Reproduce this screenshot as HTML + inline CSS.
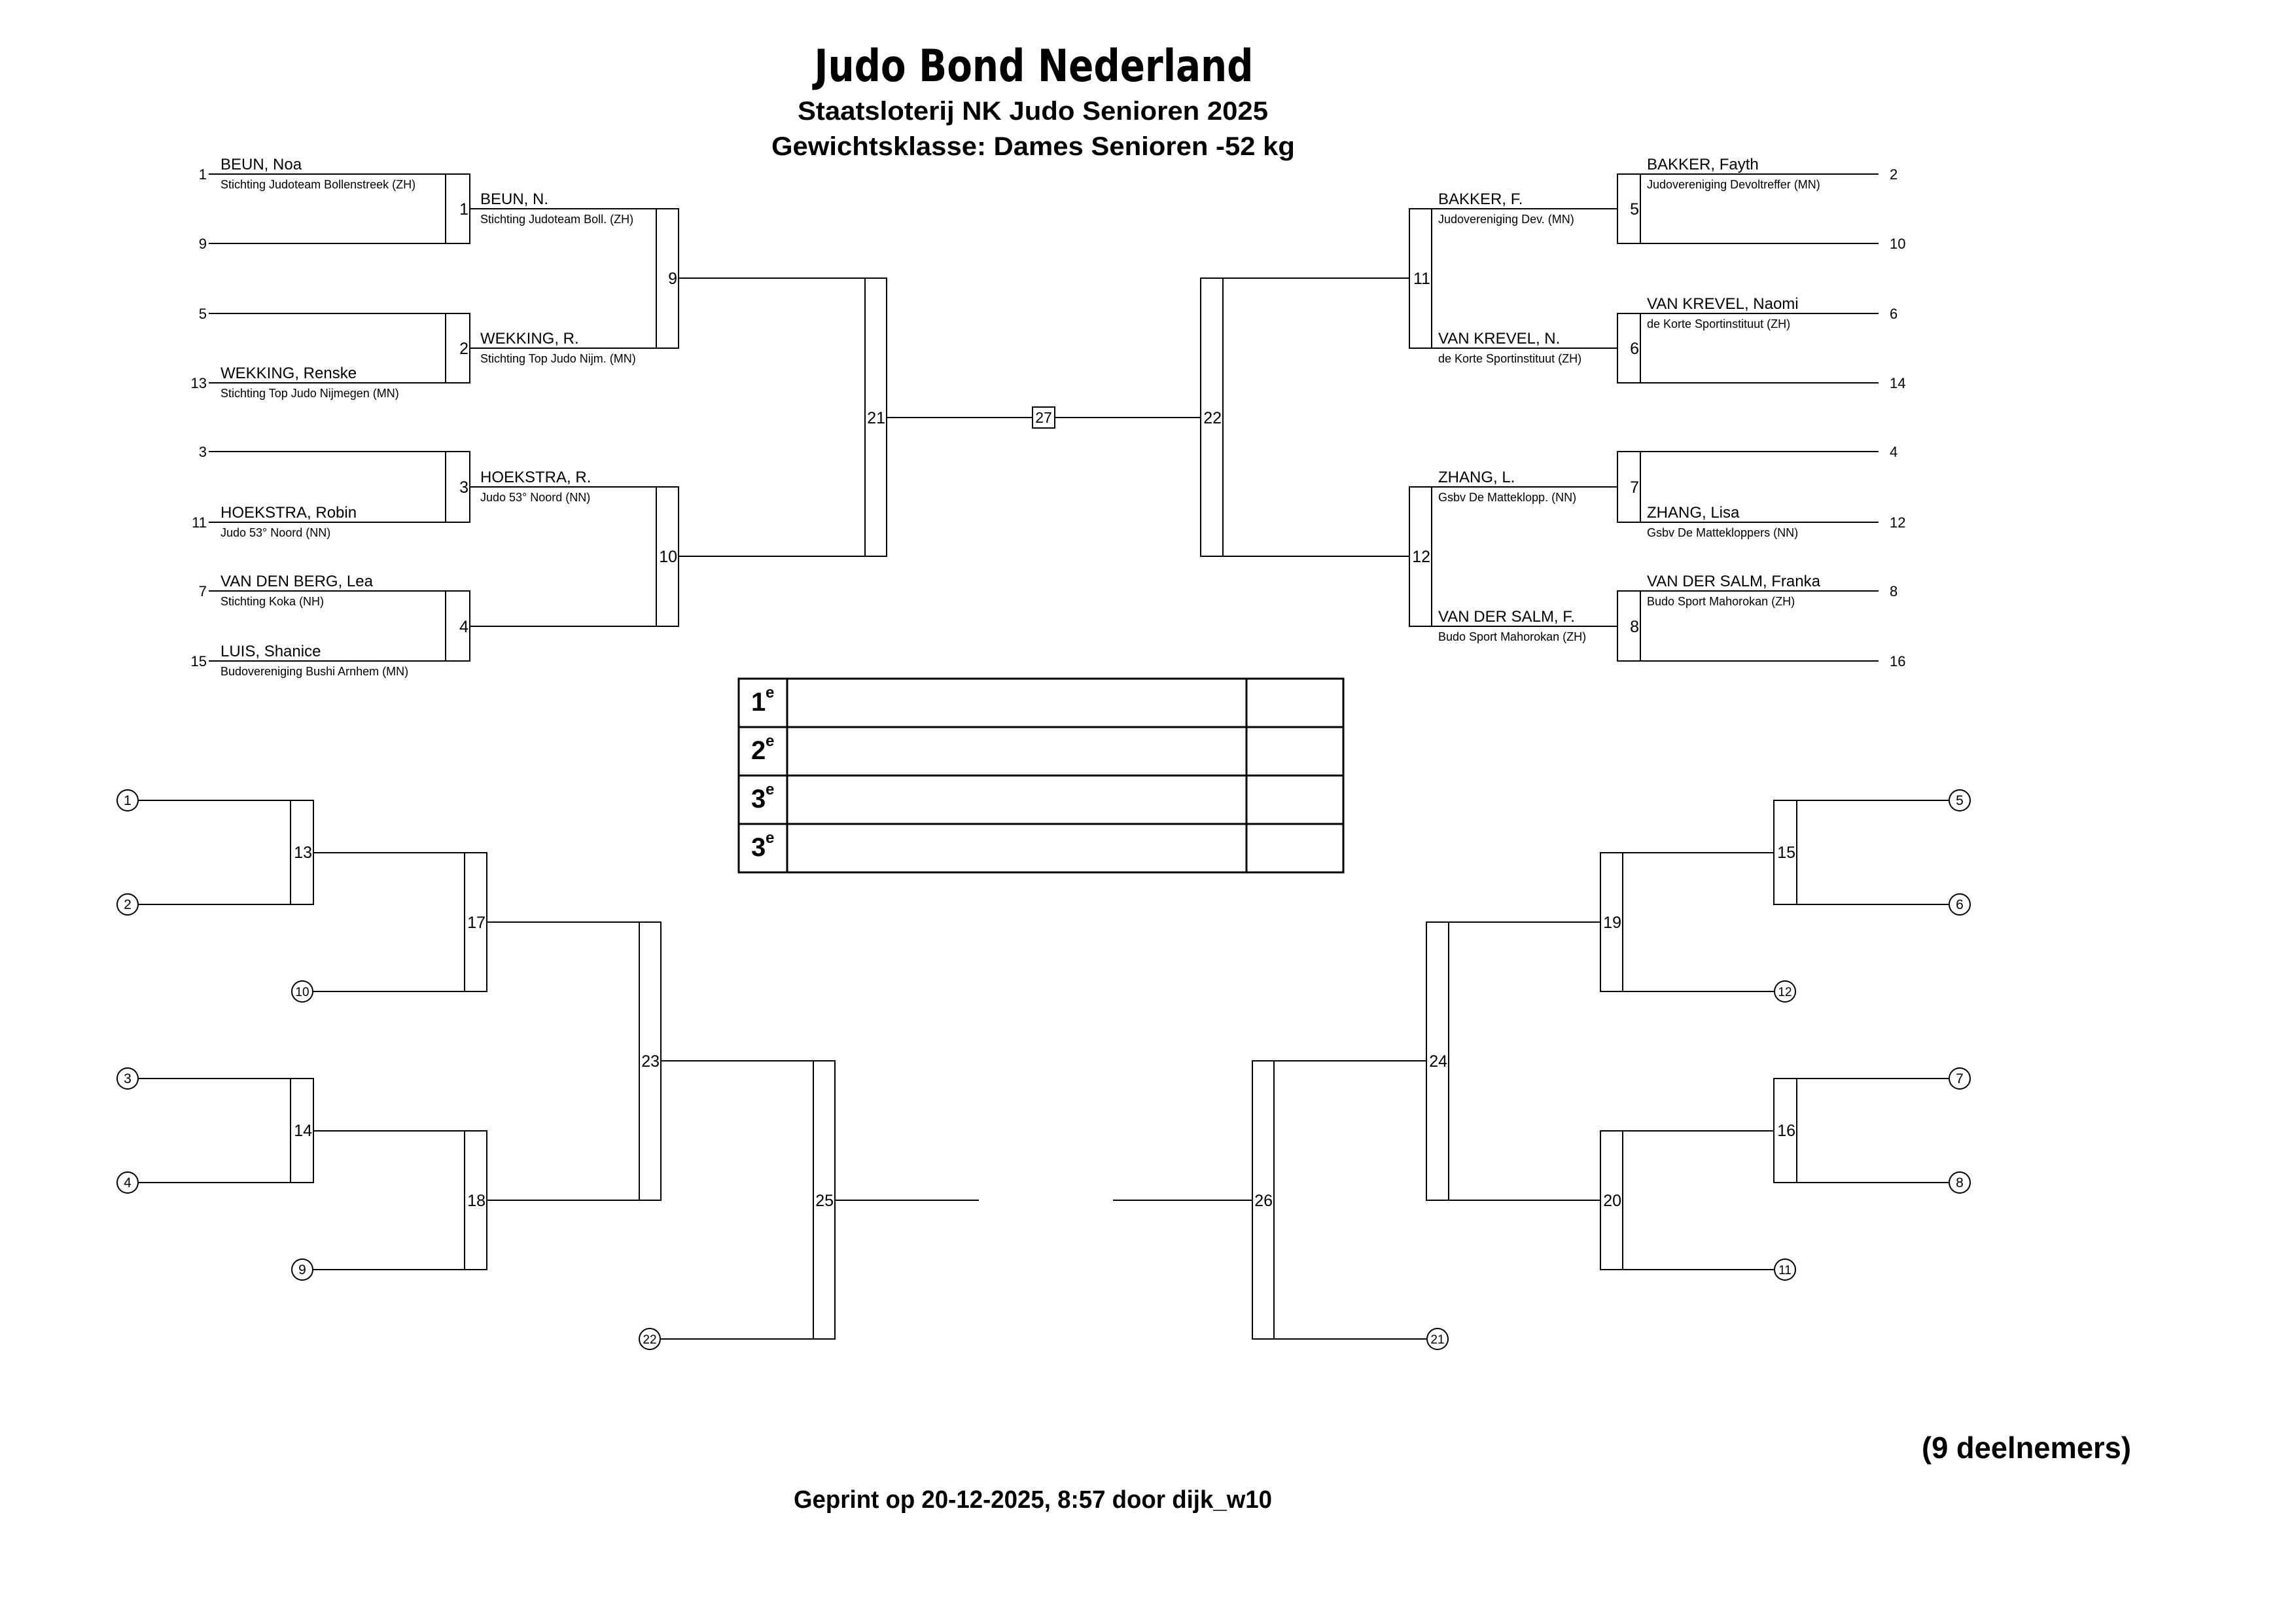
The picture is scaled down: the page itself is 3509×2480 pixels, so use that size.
<!DOCTYPE html>
<html><head><meta charset="utf-8"><style>
html,body{margin:0;padding:0;background:#fff;}
svg{display:block;}
text{font-family:"Liberation Sans",sans-serif;fill:#000;}
.n{font-size:24px;}
.c{font-size:18px;}
.s{font-size:22px;}
.b{font-size:25px;}
.ci{font-size:21px;}
</style></head><body>
<svg width="3509" height="2480" viewBox="0 0 3509 2480" xmlns="http://www.w3.org/2000/svg">
<rect width="3509" height="2480" fill="#fff"/>
<text x="1580" y="124" text-anchor="middle" font-size="68" font-weight="bold" textLength="671" lengthAdjust="spacingAndGlyphs" style="font-family:'DejaVu Sans','Liberation Sans',sans-serif">Judo Bond Nederland</text>
<text x="1219" y="183" font-size="40" font-weight="bold" textLength="719" lengthAdjust="spacingAndGlyphs">Staatsloterij NK Judo Senioren 2025</text>
<text x="1179" y="237" font-size="40" font-weight="bold" textLength="800" lengthAdjust="spacingAndGlyphs">Gewichtsklasse: Dames Senioren -52 kg</text>

<g stroke="#000" stroke-width="2" fill="none">
<line x1="319" y1="266" x2="718" y2="266"/><line x1="319" y1="372" x2="718" y2="372"/>
<line x1="319" y1="479" x2="718" y2="479"/><line x1="319" y1="585" x2="718" y2="585"/>
<line x1="319" y1="690" x2="718" y2="690"/><line x1="319" y1="798" x2="718" y2="798"/>
<line x1="319" y1="903" x2="718" y2="903"/><line x1="319" y1="1010" x2="718" y2="1010"/>
<rect x="681" y="266" width="37" height="106"/><rect x="681" y="479" width="37" height="106"/>
<rect x="681" y="690" width="37" height="108"/><rect x="681" y="903" width="37" height="107"/>
<line x1="718" y1="319" x2="1037" y2="319"/><line x1="718" y1="532" x2="1037" y2="532"/>
<line x1="718" y1="744" x2="1037" y2="744"/><line x1="718" y1="957" x2="1037" y2="957"/>
<rect x="1003" y="319" width="34" height="213"/><rect x="1003" y="744" width="34" height="213"/>
<line x1="1037" y1="425" x2="1355" y2="425"/><line x1="1037" y1="850" x2="1355" y2="850"/>
<rect x="1322" y="425" width="33" height="425"/>
<line x1="1355" y1="638" x2="1835" y2="638"/>
<rect x="1578" y="622" width="34" height="32" fill="#fff"/>
<rect x="1835" y="425" width="34" height="425"/>
<line x1="1835" y1="425" x2="2154" y2="425"/><line x1="1835" y1="850" x2="2154" y2="850"/>
<rect x="2154" y="319" width="34" height="213"/><rect x="2154" y="744" width="34" height="213"/>
<line x1="2154" y1="319" x2="2472" y2="319"/><line x1="2154" y1="532" x2="2472" y2="532"/>
<line x1="2154" y1="744" x2="2472" y2="744"/><line x1="2154" y1="957" x2="2472" y2="957"/>
<rect x="2472" y="266" width="35" height="106"/><rect x="2472" y="479" width="35" height="106"/>
<rect x="2472" y="690" width="35" height="108"/><rect x="2472" y="903" width="35" height="107"/>
<line x1="2472" y1="266" x2="2871" y2="266"/><line x1="2472" y1="372" x2="2871" y2="372"/>
<line x1="2472" y1="479" x2="2871" y2="479"/><line x1="2472" y1="585" x2="2871" y2="585"/>
<line x1="2472" y1="690" x2="2871" y2="690"/><line x1="2472" y1="798" x2="2871" y2="798"/>
<line x1="2472" y1="903" x2="2871" y2="903"/><line x1="2472" y1="1010" x2="2871" y2="1010"/>

<line x1="211" y1="1223" x2="479" y2="1223"/><line x1="211" y1="1382" x2="479" y2="1382"/>
<line x1="211" y1="1648" x2="479" y2="1648"/><line x1="211" y1="1807" x2="479" y2="1807"/>
<rect x="444" y="1223" width="35" height="159"/><rect x="444" y="1648" width="35" height="159"/>
<line x1="479" y1="1303" x2="744" y2="1303"/><line x1="478" y1="1515" x2="744" y2="1515"/>
<line x1="479" y1="1728" x2="744" y2="1728"/><line x1="478" y1="1940" x2="744" y2="1940"/>
<rect x="710" y="1303" width="34" height="212"/><rect x="710" y="1728" width="34" height="212"/>
<line x1="744" y1="1409" x2="1010" y2="1409"/><line x1="744" y1="1834" x2="1010" y2="1834"/>
<rect x="977" y="1409" width="33" height="425"/>
<line x1="1010" y1="1621" x2="1276" y2="1621"/><line x1="1009" y1="2046" x2="1276" y2="2046"/>
<rect x="1243" y="1621" width="33" height="425"/>
<line x1="1276" y1="1834" x2="1496" y2="1834"/>
<circle cx="195" cy="1223" r="16"/><circle cx="195" cy="1382" r="16"/>
<circle cx="195" cy="1648" r="16"/><circle cx="195" cy="1807" r="16"/>
<circle cx="462" cy="1515" r="16"/><circle cx="462" cy="1940" r="16"/>
<circle cx="993" cy="2046" r="16"/>
<line x1="2711" y1="1223" x2="2979" y2="1223"/><line x1="2711" y1="1382" x2="2979" y2="1382"/>
<line x1="2711" y1="1648" x2="2979" y2="1648"/><line x1="2711" y1="1807" x2="2979" y2="1807"/>
<rect x="2711" y="1223" width="35" height="159"/><rect x="2711" y="1648" width="35" height="159"/>
<line x1="2446" y1="1303" x2="2711" y2="1303"/><line x1="2446" y1="1515" x2="2712" y2="1515"/>
<line x1="2446" y1="1728" x2="2711" y2="1728"/><line x1="2446" y1="1940" x2="2712" y2="1940"/>
<rect x="2446" y="1303" width="34" height="212"/><rect x="2446" y="1728" width="34" height="212"/>
<line x1="2180" y1="1409" x2="2446" y2="1409"/><line x1="2180" y1="1834" x2="2446" y2="1834"/>
<rect x="2180" y="1409" width="34" height="425"/>
<line x1="1914" y1="1621" x2="2180" y2="1621"/><line x1="1914" y1="2046" x2="2181" y2="2046"/>
<rect x="1914" y="1621" width="33" height="425"/>
<line x1="1701" y1="1834" x2="1914" y2="1834"/>
<circle cx="2995" cy="1223" r="16"/><circle cx="2995" cy="1382" r="16"/>
<circle cx="2995" cy="1648" r="16"/><circle cx="2995" cy="1807" r="16"/>
<circle cx="2728" cy="1515" r="16"/><circle cx="2728" cy="1940" r="16"/>
<circle cx="2197" cy="2046" r="16"/>
</g>

<g stroke="#000" stroke-width="3" fill="none">
<rect x="1129" y="1037" width="924" height="296"/>
<line x1="1129" y1="1111" x2="2053" y2="1111"/><line x1="1129" y1="1185" x2="2053" y2="1185"/>
<line x1="1129" y1="1259" x2="2053" y2="1259"/>
<line x1="1203" y1="1037" x2="1203" y2="1333"/><line x1="1905" y1="1037" x2="1905" y2="1333"/>
</g>
<g font-weight="bold">
<text x="1148" y="1086" font-size="40">1</text><text x="1170" y="1066" font-size="24">e</text>
<text x="1148" y="1160" font-size="40">2</text><text x="1170" y="1140" font-size="24">e</text>
<text x="1148" y="1234" font-size="40">3</text><text x="1170" y="1214" font-size="24">e</text>
<text x="1148" y="1308" font-size="40">3</text><text x="1170" y="1288" font-size="24">e</text>
</g>

<g class="s" text-anchor="end">
<text x="316" y="274">1</text><text x="316" y="380">9</text>
<text x="316" y="487">5</text><text x="316" y="593">13</text>
<text x="316" y="698">3</text><text x="316" y="806">11</text>
<text x="316" y="911">7</text><text x="316" y="1018">15</text>
</g>
<g class="s">
<text x="2888" y="274">2</text><text x="2888" y="380">10</text>
<text x="2888" y="487">6</text><text x="2888" y="593">14</text>
<text x="2888" y="698">4</text><text x="2888" y="806">12</text>
<text x="2888" y="911">8</text><text x="2888" y="1018">16</text>
</g>
<g class="b" text-anchor="end">
<text x="716" y="328">1</text><text x="716" y="541">2</text><text x="716" y="753">3</text><text x="716" y="966">4</text>
<text x="1035" y="434">9</text><text x="1035" y="859">10</text>
<text x="1353" y="647">21</text>
<text x="1867" y="647">22</text>
<text x="2186" y="434">11</text><text x="2186" y="859">12</text>
<text x="2505" y="328">5</text><text x="2505" y="541">6</text><text x="2505" y="753">7</text><text x="2505" y="966">8</text>
<text x="477" y="1311">13</text><text x="477" y="1736">14</text>
<text x="742" y="1418">17</text><text x="742" y="1843">18</text>
<text x="1008" y="1630">23</text><text x="1274" y="1843">25</text>
<text x="2744" y="1311">15</text><text x="2744" y="1736">16</text>
<text x="2478" y="1418">19</text><text x="2478" y="1843">20</text>
<text x="2212" y="1630">24</text><text x="1945" y="1843">26</text>
</g>
<text x="1595" y="646" font-size="23" text-anchor="middle">27</text>
<g class="ci" text-anchor="middle">
<text x="195" y="1230">1</text><text x="195" y="1389">2</text><text x="195" y="1655">3</text><text x="195" y="1814">4</text>
<text x="462" y="1522" font-size="19">10</text><text x="462" y="1947">9</text><text x="993" y="2053" font-size="19">22</text>
<text x="2995" y="1230">5</text><text x="2995" y="1389">6</text><text x="2995" y="1655">7</text><text x="2995" y="1814">8</text>
<text x="2728" y="1522" font-size="19">12</text><text x="2728" y="1947" font-size="19">11</text><text x="2197" y="2053" font-size="19">21</text>
</g>

<text class="n" x="337" y="259">BEUN, Noa</text><text class="c" x="337" y="288">Stichting Judoteam Bollenstreek (ZH)</text>
<text class="n" x="337" y="578">WEKKING, Renske</text><text class="c" x="337" y="607">Stichting Top Judo Nijmegen (MN)</text>
<text class="n" x="337" y="791">HOEKSTRA, Robin</text><text class="c" x="337" y="820">Judo 53° Noord (NN)</text>
<text class="n" x="337" y="896">VAN DEN BERG, Lea</text><text class="c" x="337" y="925">Stichting Koka (NH)</text>
<text class="n" x="337" y="1003">LUIS, Shanice</text><text class="c" x="337" y="1032">Budovereniging Bushi Arnhem (MN)</text>
<text class="n" x="734" y="312">BEUN, N.</text><text class="c" x="734" y="341">Stichting Judoteam Boll. (ZH)</text>
<text class="n" x="734" y="525">WEKKING, R.</text><text class="c" x="734" y="554">Stichting Top Judo Nijm. (MN)</text>
<text class="n" x="734" y="737">HOEKSTRA, R.</text><text class="c" x="734" y="766">Judo 53° Noord (NN)</text>
<text class="n" x="2517" y="259">BAKKER, Fayth</text><text class="c" x="2517" y="288">Judovereniging Devoltreffer (MN)</text>
<text class="n" x="2517" y="472">VAN KREVEL, Naomi</text><text class="c" x="2517" y="501">de Korte Sportinstituut (ZH)</text>
<text class="n" x="2517" y="791">ZHANG, Lisa</text><text class="c" x="2517" y="820">Gsbv De Mattekloppers (NN)</text>
<text class="n" x="2517" y="896">VAN DER SALM, Franka</text><text class="c" x="2517" y="925">Budo Sport Mahorokan (ZH)</text>
<text class="n" x="2198" y="312">BAKKER, F.</text><text class="c" x="2198" y="341">Judovereniging Dev. (MN)</text>
<text class="n" x="2198" y="525">VAN KREVEL, N.</text><text class="c" x="2198" y="554">de Korte Sportinstituut (ZH)</text>
<text class="n" x="2198" y="737">ZHANG, L.</text><text class="c" x="2198" y="766">Gsbv De Matteklopp. (NN)</text>
<text class="n" x="2198" y="950">VAN DER SALM, F.</text><text class="c" x="2198" y="979">Budo Sport Mahorokan (ZH)</text>

<text x="2937" y="2228" font-size="46" font-weight="bold" textLength="320" lengthAdjust="spacingAndGlyphs">(9 deelnemers)</text>
<text x="1213" y="2304" font-size="38" font-weight="bold" textLength="731" lengthAdjust="spacingAndGlyphs">Geprint op 20-12-2025, 8:57 door dijk_w10</text>
</svg>
</body></html>
